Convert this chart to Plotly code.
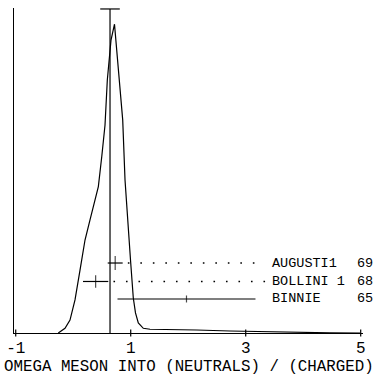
import plotly.graph_objects as go

# Ideogram curve (arbitrary units)
curve_x = [-0.26, -0.143, -0.056, 0.031, 0.118, 0.205, 0.292, 0.379, 0.437, 0.496,
           0.553, 0.593, 0.657, 0.718, 0.814, 0.861, 0.901, 0.944, 0.997, 1.045,
           1.083, 1.132, 1.219, 1.336, 1.562, 2.148, 2.727, 3.301, 3.887, 4.466, 4.99]
curve_y = [0.0, 0.0145, 0.040, 0.102, 0.194, 0.287, 0.349, 0.410, 0.452, 0.544,
           0.642, 0.781, 0.904, 0.953, 0.750, 0.657, 0.472, 0.349, 0.224, 0.108,
           0.062, 0.031, 0.0145, 0.0115, 0.0113, 0.0093, 0.0062, 0.004, 0.002, 0.0006, 0.0]

# Measurements
names = ["AUGUSTI1", "BOLLINI 1", "BINNIE"]
years = ["69", "68", "65"]
values = [0.73, 0.39, 1.97]
errors = [0.13, 0.22, 1.20]
rows = [0.216, 0.159, 0.105]

# Weighted average
mean_val = 0.64
mean_err = 0.17

tick_vals = [-1, 1, 3, 5]
tick_text = ["-1", "1", "3", "5"]

title_text = "OMEGA MESON INTO (NEUTRALS) / (CHARGED)"

label_x = 3.42
year_x = 4.90
FONT = "Liberation Mono"

fig = go.Figure()

fig.add_trace(go.Scatter(x=curve_x, y=curve_y, mode="lines",
                         line=dict(color="black", width=1.2), hoverinfo="skip"))

# mean line with cap
fig.add_trace(go.Scatter(
    x=[mean_val - mean_err, mean_val + mean_err, None, mean_val, mean_val],
    y=[1.0, 1.0, None, 1.0, 0.0], mode="lines",
    line=dict(color="black", width=1.2), hoverinfo="skip"))

# leaders (dotted) where error bar does not reach the label
for v, e, r in zip(values, errors, rows):
    start = v + e + 0.09
    end = label_x - 0.08
    if start < end - 0.2:
        fig.add_trace(go.Scatter(x=[start, end], y=[r, r], mode="lines",
                                 line=dict(color="black", width=1.6, dash="1.6px,10.9px"),
                                 hoverinfo="skip"))

# measurement points with horizontal error bars
fig.add_trace(go.Scatter(
    x=values, y=rows, mode="markers",
    marker=dict(symbol="line-ns", size=[10, 9, 5], line=dict(color="black", width=1.2)),
    error_x=dict(type="data", array=errors, color="black", thickness=1.2, width=0),
    hoverinfo="skip", cliponaxis=False))

# tick marks crossing the axis
fig.add_trace(go.Scatter(x=tick_vals, y=[0] * len(tick_vals), mode="markers",
                         marker=dict(symbol="line-ns", size=5, line=dict(color="black", width=1.2)),
                         hoverinfo="skip", cliponaxis=False))

for n, yr, r in zip(names, years, rows):
    fig.add_annotation(x=label_x, y=r, text=n, showarrow=False, xanchor="left",
                       yanchor="middle", font=dict(family=FONT, size=13.5, color="black"))
    fig.add_annotation(x=year_x, y=r, text=yr, showarrow=False, xanchor="left",
                       yanchor="middle", font=dict(family=FONT, size=13.5, color="black"))

fig.add_annotation(x=0.5, y=-0.104, xref="paper", yref="paper", text=title_text,
                   showarrow=False, xanchor="center", yanchor="middle",
                   font=dict(family=FONT, size=15.8, color="black"))

fig.update_layout(
    width=381, height=375,
    margin=dict(l=14, r=18, t=8, b=42, autoexpand=False),
    plot_bgcolor="white", paper_bgcolor="white",
    showlegend=False,
    xaxis=dict(range=[-1.03, 5.04], showgrid=False, zeroline=False, automargin=False,
               showline=True, linecolor="black", linewidth=1.2,
               tickmode="array", tickvals=tick_vals, ticktext=tick_text,
               ticks="", tickfont=dict(family=FONT, size=16, color="black")),
    yaxis=dict(range=[0, 1.003], showgrid=False, zeroline=False, automargin=False,
               showline=True, linecolor="black", linewidth=1.2,
               showticklabels=False, ticks=""),
)

fig.write_html("out.html", config={"displayModeBar": False},
               post_script="document.body.style.margin='0';document.body.style.overflow='hidden';")
